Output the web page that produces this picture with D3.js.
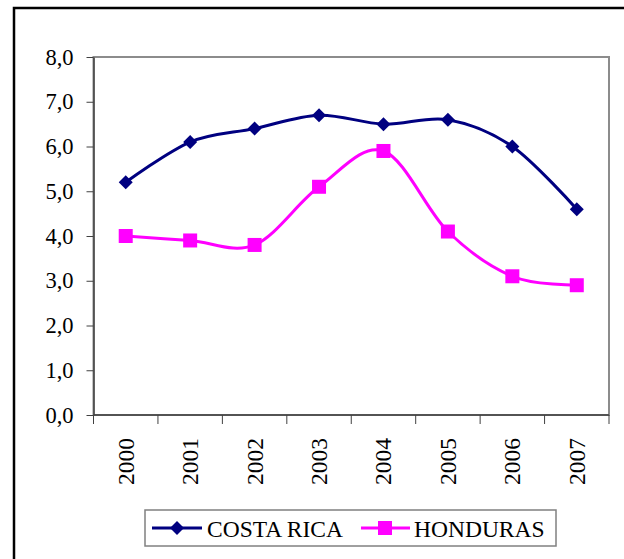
<!DOCTYPE html>
<html>
<head>
<meta charset="utf-8">
<script src="https://cdn.jsdelivr.net/npm/d3@7"></script>
<style>
  html, body { margin: 0; padding: 0; background: #fff; }
  svg { display: block; }
  svg text { font-family: "Times New Roman", "Liberation Serif", Tinos, "DejaVu Serif", serif !important; fill: #000; }
</style>
</head>
<body>
<svg id="chart" width="624" height="559"></svg>
<script>
const years = ["2000", "2001", "2002", "2003", "2004", "2005", "2006", "2007"];
const costaRica = [5.2, 6.1, 6.4, 6.7, 6.5, 6.6, 6.0, 4.6];
const honduras = [4.0, 3.9, 3.8, 5.1, 5.9, 4.1, 3.1, 2.9];
const yTickValues = [0, 1, 2, 3, 4, 5, 6, 7, 8];
const yTickLabels = ["0,0", "1,0", "2,0", "3,0", "4,0", "5,0", "6,0", "7,0", "8,0"];
const seriesNames = ["COSTA RICA", "HONDURAS"];

const svg = d3.select("#chart");
const pLeft = 93.5, pRight = 609, pTop = 57, pBottom = 415;

// outer frame (only left and top visible)
svg.append("path")
  .attr("d", "M14,559 L14,8 L624,8")
  .attr("fill", "none").attr("stroke", "#000").attr("stroke-width", 2.5);

const x = d3.scaleBand().domain(years).range([pLeft, pRight]);
const y = d3.scaleLinear().domain([0, 8]).range([pBottom, pTop]);
const cx = d => x(d) + x.bandwidth() / 2;

// plot area border
svg.append("rect")
  .attr("x", pLeft).attr("y", pTop)
  .attr("width", pRight - pLeft).attr("height", pBottom - pTop)
  .attr("fill", "#fff").attr("stroke", "#8c8c8c").attr("stroke-width", 2);

// y axis
const yAxis = d3.axisLeft(y)
  .tickValues(yTickValues)
  .tickFormat((d, i) => yTickLabels[i])
  .tickSizeInner(7).tickSizeOuter(0).tickPadding(13);
const gy = svg.append("g").attr("transform", `translate(${pLeft},0)`).call(yAxis);
gy.attr("font-family", null);
gy.select(".domain").attr("stroke", "#404040").attr("stroke-width", 1.5);
gy.selectAll(".tick line").attr("stroke", "#404040");
gy.selectAll("text")
  .style("font-size", "22.5px").attr("fill", "#000");

// x axis line and ticks at band boundaries
const boundaries = years.map(d => x(d)).concat([x.range()[1]]);
svg.append("line")
  .attr("x1", pLeft).attr("x2", pRight).attr("y1", pBottom).attr("y2", pBottom)
  .attr("stroke", "#404040").attr("stroke-width", 1.5);
svg.selectAll(".xtick").data(boundaries).join("line")
  .attr("class", "xtick")
  .attr("x1", d => d).attr("x2", d => d)
  .attr("y1", pBottom).attr("y2", pBottom + 9)
  .attr("stroke", "#404040").attr("stroke-width", 1);
svg.selectAll(".xlabel").data(years).join("text")
  .attr("class", "xlabel")
  .attr("transform", d => `translate(${cx(d) + 8},${pBottom + 23}) rotate(-90)`)
  .attr("text-anchor", "end")
  .style("font-size", "23.5px")
  .text(d => d);

// lines
const line = d3.line()
  .x((d, i) => cx(years[i]))
  .y(d => y(d))
  .curve(d3.curveCardinal.tension(0));

svg.append("path").datum(costaRica)
  .attr("d", line).attr("fill", "none")
  .attr("stroke", "#000080").attr("stroke-width", 3);
svg.append("path").datum(honduras)
  .attr("d", line).attr("fill", "none")
  .attr("stroke", "#ff00ff").attr("stroke-width", 3);

const diamond = (px, py, r) => `M${px},${py - r} L${px + r},${py} L${px},${py + r} L${px - r},${py} Z`;

svg.selectAll(".crm").data(costaRica).join("path")
  .attr("class", "crm")
  .attr("d", (d, i) => diamond(cx(years[i]), y(d), 7))
  .attr("fill", "#000080");
svg.selectAll(".hnm").data(honduras).join("rect")
  .attr("class", "hnm")
  .attr("x", (d, i) => cx(years[i]) - 7).attr("y", d => y(d) - 7)
  .attr("width", 14).attr("height", 14)
  .attr("fill", "#ff00ff");

// legend
const lg = svg.append("g");
lg.append("rect")
  .attr("x", 145).attr("y", 510).attr("width", 411).attr("height", 36)
  .attr("fill", "#fff").attr("stroke", "#808080").attr("stroke-width", 1.5);
const ly = 528;
// Costa Rica
lg.append("line").attr("x1", 152).attr("x2", 202).attr("y1", ly).attr("y2", ly)
  .attr("stroke", "#000080").attr("stroke-width", 3);
lg.append("path").attr("d", diamond(177, ly, 7)).attr("fill", "#000080");
lg.append("text").attr("x", 207).attr("y", ly + 8.5)
  .style("font-size", "23.5px").text(seriesNames[0]);
// Honduras
lg.append("line").attr("x1", 361).attr("x2", 410).attr("y1", ly).attr("y2", ly)
  .attr("stroke", "#ff00ff").attr("stroke-width", 3);
lg.append("rect").attr("x", 378).attr("y", ly - 7).attr("width", 14).attr("height", 14)
  .attr("fill", "#ff00ff");
lg.append("text").attr("x", 414).attr("y", ly + 8.5)
  .style("font-size", "23.5px").text(seriesNames[1]);
</script>
</body>
</html>
